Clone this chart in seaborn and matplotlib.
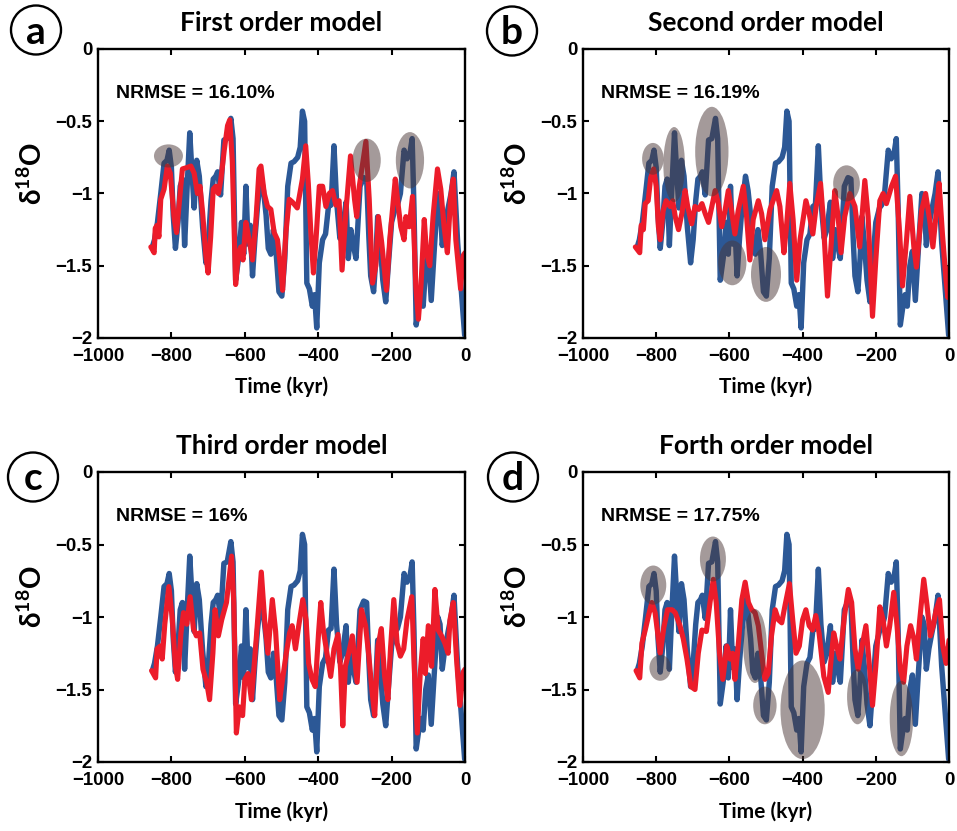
import matplotlib
matplotlib.use("Agg")
import matplotlib.pyplot as plt
from matplotlib.patches import Ellipse
import pandas as pd
import seaborn as sns

# ---------------- data ----------------
# observed record (time in kyr, delta-18O)
OBS_T = [-852, -846, -838, -829, -820, -812, -806, -800, -795, -789,
         -782, -776, -770, -764, -757, -750, -744, -738, -731, -724,
         -715, -706, -699, -692, -686, -679, -674, -666, -657, -648,
         -643, -638, -632, -625, -617, -609, -603, -597, -591, -585,
         -579, -572, -565, -556, -549, -542, -536, -529, -522, -515,
         -507, -499, -491, -483, -474, -466, -456, -449, -443, -437,
         -431, -424, -416, -410, -404, -397, -388, -380, -372, -365,
         -357, -350, -341, -334, -324, -318, -311, -305, -297, -286,
         -276, -268, -262, -257, -249, -243, -238, -231, -224, -216,
         -209, -200, -190, -184, -176, -166, -158, -150, -144, -139,
         -133, -127, -120, -114, -107, -100, -92, -84, -74, -68,
         -62, -55, -46, -38, -30, -20, -11, -1]
OBS_V = [-1.37, -1.32, -1.20, -1.00, -0.79, -0.77, -0.70, -0.82, -1.15, -1.38,
         -1.20, -0.95, -0.90, -1.36, -0.95, -0.58, -0.85, -1.10, -0.77, -0.88,
         -1.23, -1.48, -1.32, -1.05, -0.90, -0.88, -0.85, -1.01, -0.63, -0.62,
         -0.55, -0.48, -0.62, -1.60, -1.45, -1.20, -1.42, -0.95, -1.35, -1.22,
         -1.57, -1.30, -1.08, -0.88, -0.98, -1.15, -1.38, -1.42, -1.25, -1.40,
         -1.68, -1.71, -1.45, -0.95, -0.79, -0.78, -0.75, -0.68, -0.43, -0.50,
         -1.62, -1.66, -1.78, -1.70, -1.93, -1.48, -1.32, -1.28, -1.09, -1.08,
         -0.67, -1.05, -1.31, -1.25, -1.06, -1.45, -1.25, -1.35, -1.45, -0.95,
         -0.89, -0.90, -1.30, -1.57, -1.68, -1.45, -1.16, -1.35, -1.60, -1.75,
         -1.50, -1.20, -1.10, -1.08, -1.00, -0.70, -0.76, -0.72, -0.62, -1.10,
         -1.91, -1.80, -1.70, -1.78, -1.50, -1.40, -1.74, -1.40, -1.00, -1.05,
         -1.36, -1.22, -1.10, -1.00, -0.85, -1.34, -1.64, -1.98]

# model outputs
FIRST_T = [-856, -847, -844, -839, -834, -829, -820, -811, -803, -793,
           -786, -778, -770, -757, -747, -738, -729, -722, -715, -706,
           -700, -693, -686, -679, -672, -665, -656, -647, -641, -634,
           -625, -618, -611, -605, -597, -588, -579, -570, -561, -556,
           -547, -538, -529, -520, -511, -504, -497, -488, -479, -470,
           -457, -443, -434, -427, -420, -413, -406, -397, -388, -379,
           -370, -361, -352, -343, -335, -324, -312, -301, -295, -288,
           -270, -261, -252, -243, -236, -227, -214, -205, -190, -184,
           -175, -166, -161, -152, -143, -134, -127, -120, -111, -105,
           -96, -87, -75, -66, -57, -48, -39, -32, -25, -12,
           -5, 0]
FIRST_V = [-1.37, -1.41, -1.24, -1.22, -1.30, -1.04, -0.97, -0.81, -0.86, -1.16,
           -1.27, -1.05, -0.83, -0.82, -0.81, -0.86, -1.00, -0.95, -1.13, -1.43,
           -1.55, -1.30, -0.97, -0.95, -1.00, -0.90, -0.70, -0.53, -0.49, -0.78,
           -1.63, -1.42, -1.37, -1.46, -1.20, -1.32, -1.46, -1.20, -0.83, -0.81,
           -1.00, -1.09, -1.11, -1.27, -1.32, -1.48, -1.67, -1.27, -1.04, -1.06,
           -1.10, -0.90, -0.67, -0.93, -1.27, -1.55, -1.32, -0.95, -0.95, -1.09,
           -1.00, -0.98, -1.08, -1.05, -1.53, -1.11, -0.74, -1.04, -1.16, -0.95,
           -0.64, -1.04, -1.62, -1.50, -1.16, -1.34, -1.67, -1.32, -0.90, -1.04,
           -1.23, -1.32, -1.16, -1.23, -1.02, -1.64, -1.87, -1.64, -1.18, -1.41,
           -1.50, -1.16, -0.83, -0.97, -1.23, -1.41, -1.02, -0.90, -1.32, -1.66,
           -1.43, -1.41]

SECOND_T = [-857, -845, -841, -835, -830, -822, -815, -807, -800, -794,
            -789, -781, -773, -762, -755, -748, -739, -730, -721, -714,
            -703, -694, -684, -675, -666, -657, -648, -639, -630, -621,
            -612, -603, -594, -585, -576, -562, -553, -544, -535, -521,
            -512, -503, -489, -471, -462, -451, -444, -435, -426, -416,
            -407, -391, -382, -372, -363, -351, -344, -332, -323, -312,
            -303, -295, -285, -271, -257, -244, -230, -221, -209, -200,
            -189, -180, -171, -157, -146, -135, -127, -116, -107, -96,
            -89, -75, -64, -53, -44, -35, -27, -18, -8, -3,
            0]
SECOND_V = [-1.37, -1.41, -1.22, -1.25, -1.07, -1.05, -0.89, -0.83, -0.95, -1.23,
            -1.32, -1.12, -1.05, -1.09, -1.05, -1.16, -1.25, -1.14, -0.98, -1.09,
            -1.21, -1.09, -1.11, -1.07, -1.14, -1.20, -1.09, -0.98, -1.07, -1.23,
            -1.12, -0.98, -1.12, -1.28, -1.12, -0.95, -1.16, -1.46, -1.18, -1.05,
            -1.14, -1.32, -1.11, -0.98, -1.09, -1.41, -1.23, -0.93, -1.18, -1.60,
            -1.32, -1.05, -1.14, -1.28, -1.09, -0.93, -1.16, -1.71, -1.39, -0.98,
            -1.16, -1.41, -1.16, -1.00, -1.09, -1.37, -0.91, -1.16, -1.85, -1.46,
            -1.05, -1.00, -1.07, -0.95, -0.88, -1.27, -1.64, -1.32, -1.02, -1.37,
            -1.51, -1.12, -1.00, -1.18, -1.37, -1.14, -0.93, -1.28, -1.60, -1.72,
            -1.52]

THIRD_T = [-854, -843, -839, -830, -825, -818, -807, -798, -789, -783,
           -774, -767, -758, -749, -740, -732, -723, -714, -704, -696,
           -687, -681, -672, -663, -650, -636, -630, -623, -615, -606,
           -600, -591, -582, -573, -564, -555, -546, -537, -525, -516,
           -505, -496, -487, -478, -471, -462, -453, -442, -433, -426,
           -417, -408, -399, -393, -386, -375, -366, -357, -346, -339,
           -333, -326, -317, -307, -294, -282, -271, -262, -253, -246,
           -237, -228, -219, -210, -203, -194, -185, -176, -167, -158,
           -145, -138, -130, -122, -114, -108, -100, -91, -82, -73,
           -64, -55, -46, -41, -32, -23, -14, -5, 0]
THIRD_V = [-1.37, -1.42, -1.22, -1.20, -1.29, -1.05, -0.79, -1.00, -1.34, -1.43,
           -1.11, -0.97, -1.05, -0.86, -1.08, -1.13, -1.11, -1.36, -1.45, -1.57,
           -1.25, -0.95, -1.13, -1.02, -0.90, -0.58, -0.90, -1.80, -1.62, -1.68,
           -1.43, -1.39, -1.57, -1.29, -0.99, -0.69, -1.02, -1.25, -0.88, -1.10,
           -1.57, -1.41, -1.25, -1.11, -1.06, -1.22, -1.06, -0.88, -1.02, -1.32,
           -1.43, -1.48, -1.11, -0.90, -1.09, -1.27, -1.41, -1.22, -1.12, -1.36,
           -1.75, -1.34, -1.25, -1.13, -1.45, -0.95, -1.06, -1.27, -1.52, -1.68,
           -1.20, -1.08, -1.41, -1.57, -1.22, -0.88, -1.18, -1.27, -1.22, -1.02,
           -0.86, -1.36, -1.80, -1.39, -1.15, -1.39, -1.06, -1.34, -0.81, -1.09,
           -1.13, -1.18, -1.25, -1.02, -0.90, -1.29, -1.61, -1.38, -1.36]

FOURTH_T = [-855, -845, -839, -830, -821, -812, -803, -795, -789, -779,
            -769, -757, -748, -735, -726, -716, -705, -694, -685, -675,
            -663, -653, -644, -636, -627, -618, -607, -598, -591, -585,
            -576, -566, -557, -548, -539, -530, -521, -512, -503, -494,
            -485, -475, -466, -457, -448, -436, -427, -418, -409, -400,
            -391, -382, -373, -364, -355, -342, -330, -324, -315, -307,
            -298, -286, -275, -266, -257, -248, -239, -227, -218, -209,
            -200, -189, -180, -171, -162, -151, -142, -133, -124, -115,
            -105, -96, -89, -80, -69, -60, -51, -43, -35, -26,
            -17, -8, 0]
FOURTH_V = [-1.37, -1.42, -1.18, -1.09, -0.99, -0.90, -0.97, -1.13, -1.25, -1.07,
            -0.95, -0.95, -0.97, -1.06, -1.15, -1.29, -1.48, -1.50, -1.25, -1.09,
            -1.10, -0.90, -0.74, -0.90, -1.25, -1.43, -1.20, -1.29, -1.25, -1.43,
            -1.20, -0.88, -0.76, -0.90, -0.95, -0.97, -1.06, -1.25, -1.43, -1.39,
            -1.13, -0.95, -1.02, -1.04, -0.92, -0.77, -1.02, -1.25, -1.20, -1.02,
            -0.95, -1.06, -1.09, -0.99, -1.11, -1.41, -1.52, -1.34, -1.11, -1.20,
            -1.29, -1.00, -0.81, -0.90, -1.22, -1.36, -1.22, -1.06, -1.32, -1.61,
            -1.34, -0.93, -1.02, -1.20, -1.06, -0.83, -1.06, -1.36, -1.45, -1.20,
            -1.06, -1.15, -1.29, -1.02, -0.74, -0.92, -1.13, -1.06, -0.95, -0.88,
            -1.20, -1.32, -1.16]

PANEL_LETTERS = ["a", "b", "c", "d"]
TITLES = ["First order model", "Second order model",
          "Third order model", "Forth order model"]
NRMSE = ["NRMSE = 16.10%", "NRMSE = 16.19%", "NRMSE = 16%", "NRMSE = 17.75%"]

# highlighted episodes: (centre time, centre value, width kyr, height)
HIGHLIGHT_A = [(-808, -0.74, 79, 0.16), (-268, -0.77, 77, 0.30),
               (-150, -0.77, 77, 0.39)]
HIGHLIGHT_B = [(-809, -0.76, 59, 0.22), (-751, -0.80, 59, 0.52),
               (-648, -0.71, 91, 0.62), (-592, -1.48, 77, 0.31),
               (-500, -1.56, 82, 0.38), (-280, -0.93, 73, 0.25)]
HIGHLIGHT_C = []
HIGHLIGHT_D = [(-808, -0.78, 71, 0.27), (-789, -1.35, 59, 0.18),
               (-645, -0.60, 71, 0.31), (-530, -1.20, 64, 0.51),
               (-503, -1.61, 64, 0.26), (-400, -1.64, 121, 0.68),
               (-250, -1.55, 57, 0.38), (-130, -1.70, 64, 0.52)]

XTICKS = [-1000, -800, -600, -400, -200, 0]
XTICK_LABELS = ["\u22121000", "\u2212800", "\u2212600", "\u2212400", "\u2212200", "0"]
YTICKS = [-2, -1.5, -1, -0.5, 0]
YTICK_LABELS = ["\u22122", "\u22121.5", "\u22121", "\u22120.5", "0"]

# ---------------- style ----------------
BLUE = "#2c5896"
RED = "#ec1c2a"
SHADE = (75 / 255, 55 / 255, 55 / 255)

sns.set_theme(style="white")
plt.rcParams["font.family"] = ["Lato", "DejaVu Sans"]
plt.rcParams["mathtext.fontset"] = "custom"
plt.rcParams["mathtext.rm"] = "Lato"
plt.rcParams["mathtext.bf"] = "Lato:bold"
for key in ("text.color", "axes.labelcolor", "xtick.color", "ytick.color",
            "axes.edgecolor"):
    plt.rcParams[key] = "black"

W, H = 957, 831
fig = plt.figure(figsize=(W / 100, H / 100), dpi=100)
fig.patch.set_facecolor("white")


def rect(l, t, r, b):
    return [l / W, 1 - b / H, (r - l) / W, (b - t) / H]


AXES_PX = [(98, 49, 465, 338), (583, 49, 949, 338),
           (98, 472, 465, 762), (583, 472, 949, 762)]
CIRCLES_PX = [(36, 30), (512, 31), (33, 477), (513, 477)]

obs = pd.DataFrame({"t": OBS_T, "v": OBS_V})
models = [(FIRST_T, FIRST_V), (SECOND_T, SECOND_V),
          (THIRD_T, THIRD_V), (FOURTH_T, FOURTH_V)]
highlights = [HIGHLIGHT_A, HIGHLIGHT_B, HIGHLIGHT_C, HIGHLIGHT_D]

tick_family = ["Liberation Sans", "DejaVu Sans"]

for i in range(4):
    ax = fig.add_axes(rect(*AXES_PX[i]))
    mt, mv = models[i]
    mod = pd.DataFrame({"t": mt, "v": mv})

    sns.lineplot(data=obs, x="t", y="v", ax=ax, color=BLUE, linewidth=3.9,
                 estimator=None, sort=False, solid_joinstyle="round",
                 solid_capstyle="round")
    sns.lineplot(data=mod, x="t", y="v", ax=ax, color=RED, linewidth=3.7,
                 estimator=None, sort=False, solid_joinstyle="round",
                 solid_capstyle="round")

    for (ct, cv, wt, hv) in highlights[i]:
        ax.add_patch(Ellipse((ct, cv), wt, hv, facecolor=SHADE, alpha=0.5,
                             edgecolor="none", zorder=5))

    ax.set_xlim(-1000, 0)
    ax.set_ylim(-2, 0)
    ax.set_xticks(XTICKS, XTICK_LABELS, fontfamily=tick_family,
                  fontweight="bold", fontsize=13.4, color="black")
    ax.set_yticks(YTICKS, YTICK_LABELS, fontfamily=tick_family,
                  fontweight="bold", fontsize=13.4, color="black")
    ax.tick_params(axis="both", direction="in", length=4, width=1.5,
                   top=True, right=True, bottom=True, left=True, colors="black")
    ax.tick_params(axis="x", pad=7)
    ax.tick_params(axis="y", pad=4)
    for s in ax.spines.values():
        s.set_visible(True)
        s.set_color("black")
        s.set_linewidth(1.7)
    ax.set_xlabel("")
    ax.set_ylabel("")
    ax.set_facecolor("white")

    ax.text(0.5, -0.17, "Time (kyr)", transform=ax.transAxes, ha="center",
            va="center", fontsize=15, fontweight="bold", color="black")
    ax.text(-0.18, 0.57, "\u03b4$^{\\mathbf{18}}$O", transform=ax.transAxes,
            rotation=90, ha="center", va="center", fontsize=20,
            fontweight="bold", color="black")
    ax.text(0.5, 1.09, TITLES[i], transform=ax.transAxes, ha="center",
            va="center", fontsize=19, fontweight="bold", color="black")
    ax.text(0.05, 0.845, NRMSE[i], transform=ax.transAxes, ha="left",
            va="center", fontfamily=tick_family, fontweight="bold",
            fontsize=14, color="black")

    cx, cy = CIRCLES_PX[i]
    fig.add_artist(Ellipse((cx / W, 1 - cy / H), 50 / W, 49 / H,
                           transform=fig.transFigure, facecolor="none",
                           edgecolor="black", linewidth=1.7))
    fig.text(cx / W, 1 - (cy + 2) / H, PANEL_LETTERS[i], ha="center",
             va="center", fontsize=28, fontweight="bold", color="black")

fig.savefig("out.png", dpi=100, facecolor="white")
